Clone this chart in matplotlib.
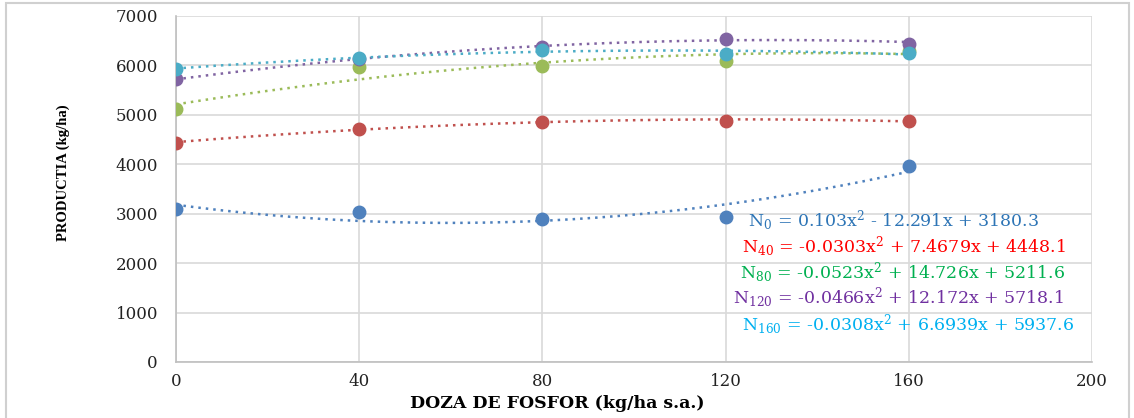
import numpy as np
import matplotlib
matplotlib.use("Agg")
import matplotlib.pyplot as plt
from matplotlib.patches import Rectangle

plt.rcParams['font.family'] = ['DejaVu Serif']
plt.rcParams['mathtext.fontset'] = 'dejavuserif'

# doze de fosfor (kg/ha s.a.)
doza_p = [0, 40, 80, 120, 160]

# productia (kg/ha) pe nivel de azot
n0 = [3090, 3040, 2900, 2940, 3970]
n40 = [4430, 4720, 4850, 4870, 4880]
n80 = [5110, 5960, 5990, 6090, 6290]
n120 = [5720, 6120, 6370, 6540, 6440]
n160 = [5920, 6150, 6310, 6230, 6250]

# coeficientii ecuatiilor de regresie (a, b, c): y = a*x^2 + b*x + c
coef_n0 = (0.103, -12.291, 3180.3)
coef_n40 = (-0.0303, 7.4679, 4448.1)
coef_n80 = (-0.0523, 14.726, 5211.6)
coef_n120 = (-0.0466, 12.172, 5718.1)
coef_n160 = (-0.0308, 6.6939, 5937.6)

ecuatii = [
    r'N$_{0}$ = 0.103x$^{2}$ - 12.291x + 3180.3',
    r'N$_{40}$ = -0.0303x$^{2}$ + 7.4679x + 4448.1',
    r'N$_{80}$ = -0.0523x$^{2}$ + 14.726x + 5211.6',
    r'N$_{120}$ = -0.0466x$^{2}$ + 12.172x + 5718.1',
    r'N$_{160}$ = -0.0308x$^{2}$ + 6.6939x + 5937.6',
]

serii = [n0, n40, n80, n120, n160]
coeficienti = [coef_n0, coef_n40, coef_n80, coef_n120, coef_n160]
culori = ['#4F81BD', '#C0504D', '#9BBB59', '#8064A2', '#4BACC6']
culori_text = ['#2E75B6', '#FF0000', '#00B050', '#7030A0', '#00B0F0']

fig = plt.figure(figsize=(11.34, 4.18), dpi=100)
ax = fig.add_axes([0.1552, 0.134, 0.8078, 0.8278])

# chenarul graficului
fig.patches.append(Rectangle((6 / 1134, -0.05), 1123 / 1134, 1.05 - 3 / 418,
                             transform=fig.transFigure, fill=False,
                             edgecolor='#D0D0D0', linewidth=1.5))

xs = np.linspace(0, 160, 200)
for y, c, col in zip(serii, coeficienti, culori):
    a, b, k = c
    ax.plot(xs, a * xs ** 2 + b * xs + k, linestyle=(0, (1, 2)),
            color=col, linewidth=1.8, zorder=2)
for y, col in zip(serii, culori):
    ax.plot(doza_p, y, 'o', color=col, markersize=9, zorder=3)

ax.set_xlim(0, 200)
ax.set_ylim(0, 7000)
ax.set_xticks([0, 40, 80, 120, 160, 200])
ax.set_yticks(range(0, 7001, 1000))
ax.grid(True, color='#D9D9D9', linewidth=1.2)
ax.set_axisbelow(True)
for s in ['top', 'right']:
    ax.spines[s].set_visible(False)
for s in ['left', 'bottom']:
    ax.spines[s].set_color('#BFBFBF')
    ax.spines[s].set_linewidth(1.2)
ax.tick_params(length=0, labelsize=12, colors='#222222', pad=8)
ax.tick_params(axis='y', pad=13)

ax.set_xlabel('DOZA DE FOSFOR (kg/ha s.a.)', fontsize=12.5, fontweight='bold',
              family='DejaVu Serif')
ax.xaxis.set_label_coords(0.416, -0.095)
ax.set_ylabel('PRODUCTIA (kg/ha)', fontsize=10.5, fontweight='bold',
              family='Liberation Serif')
ax.yaxis.set_label_coords(-0.116, 0.546)

# ecuatiile de regresie
ypos = [221, 247, 273, 298, 325]
xpos = [748, 742, 740, 733, 742]
for t, col, xp, yp in zip(ecuatii, culori_text, xpos, ypos):
    fig.text(xp / 1134, 1 - yp / 418, t, color=col, fontsize=12.5, va='center')

fig.savefig('out.png', dpi=100)
